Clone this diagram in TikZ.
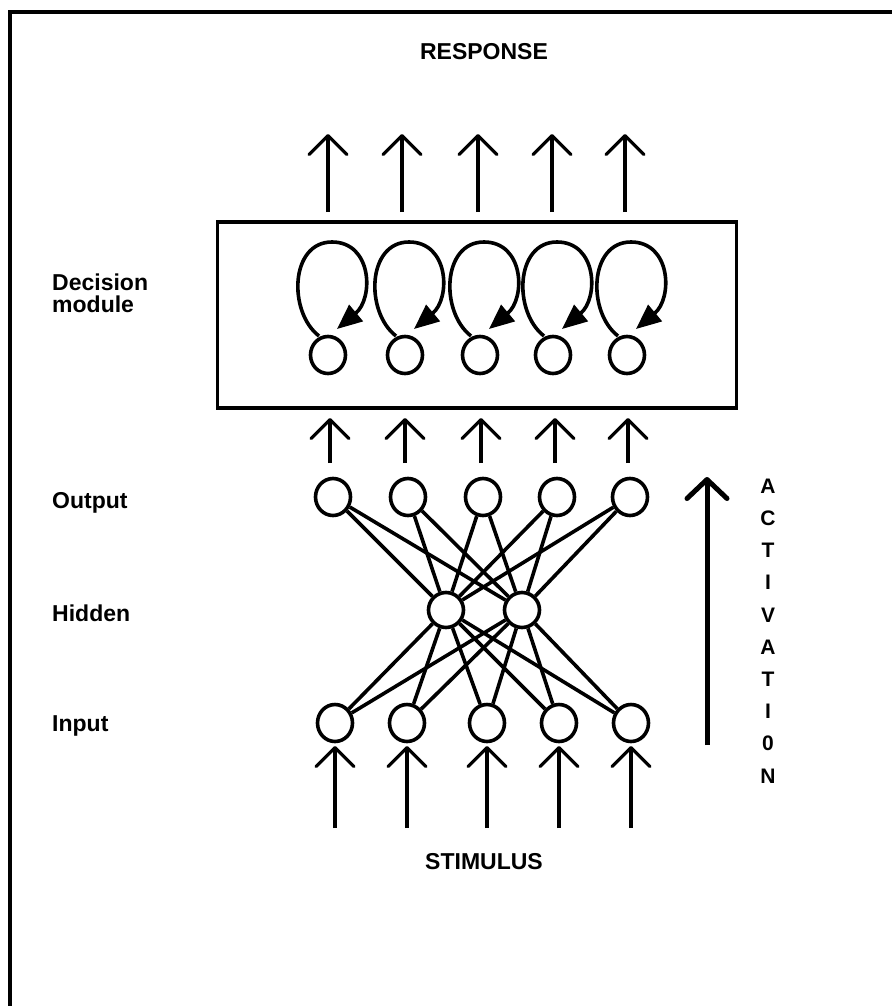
\documentclass[tikz,border=0pt]{standalone}
\usepackage{fontspec}
\setmainfont{Liberation Sans}
\usetikzlibrary{arrows.meta,shapes.geometric}
\begin{document}
\begin{tikzpicture}[x=1pt,y=-1pt,
  unit/.style={ellipse,draw,line width=3.6pt,minimum width=35pt,minimum height=37pt,inner sep=0pt},
  hunit/.style={unit,minimum width=35pt,minimum height=35pt},
  conn/.style={line width=3.6pt},
  barb/.style={line width=3.2pt,-{Straight Barb[length=19pt,width=38pt,line cap=round,line join=round]}},
  loopar/.style={line width=3.6pt,-{Triangle[length=25pt,width=21pt]}},
  lbl/.style={font=\fontsize{23}{22}\bfseries\selectfont,inner sep=0pt},
  letter/.style={font=\fontsize{21}{24}\bfseries\selectfont,inner sep=0pt}]
\useasboundingbox (0,0) rectangle (892,1006);
% frame
\draw[line width=3.6pt] (10,1006) -- (10,12) -- (892,12);
% titles
\node[lbl] (resp) at (484,52) {RESPONSE};
\node[lbl] (stim) at (484,862) {STIMULUS};
\node[lbl,anchor=west,align=left] (declbl) at (52,293) {Decision\\module};
\node[lbl,anchor=west] (outlbl) at (52,503) {Output};
\node[lbl,anchor=west] (hidlbl) at (52,613) {Hidden};
\node[lbl,anchor=west] (inlbl) at (52,726) {Input};
% decision box
\node[draw,line width=3.8pt,minimum width=519pt,minimum height=186pt,inner sep=0pt] (box) at (477,315) {};
% decision units
\foreach \i/\x in {1/328,2/405,3/480,4/553,5/627}{
  \node[unit] (d\i) at (\x,355) {};
  \coordinate (ls\i) at (\x-9,336);
  \coordinate (lt\i) at (\x+9,329);
  \draw[loopar] (ls\i) .. controls (\x-40,312) and (\x-38,242) .. (\x+4,242)
                       .. controls (\x+44,242) and (\x+46,298) .. (lt\i);
}
% output, hidden, input units
\foreach \i/\x in {1/333,2/408,3/483,4/557,5/630}{\node[unit] (o\i) at (\x,497) {};}
\node[hunit] (h1) at (446,610) {};
\node[hunit] (h2) at (522,610) {};
\foreach \i/\x in {1/335,2/407,3/487,4/559,5/631}{\node[unit] (n\i) at (\x,723) {};}
% connections
\foreach \i in {1,...,5}{
  \draw[conn] (o\i) -- (h1);
  \draw[conn] (o\i) -- (h2);
  \draw[conn] (n\i) -- (h1);
  \draw[conn] (n\i) -- (h2);
}
% response arrows
\foreach \i/\x in {1/328,2/402,3/478,4/552,5/625}{
  \coordinate (rs\i) at (\x,212);
  \coordinate (re\i) at (\x,134);
  \draw[barb] (rs\i) -- (re\i);
}
% output -> decision arrows
\foreach \i/\x in {1/330,2/405,3/481,4/555,5/628}{
  \coordinate (ms\i) at (\x,463);
  \coordinate (me\i) at (\x,418);
  \draw[barb] (ms\i) -- (me\i);
}
% stimulus arrows
\foreach \i/\x in {1/335,2/407,3/487,4/559,5/631}{
  \coordinate (ss\i) at (\x,828);
  \coordinate (se\i) at (\x,746);
  \draw[barb] (ss\i) -- (se\i);
}
% activation arrow
\coordinate (as) at (707,745);
\coordinate (ae) at (707,477);
\draw[line width=5pt,-{Straight Barb[length=19pt,width=40pt,line cap=round,line join=round]}] (as) -- (ae);
\foreach \c [count=\k from 0] in {A,C,T,I,V,A,T,I,0,N}{
  \node[letter] (act\k) at (768,486+32.2*\k) {\c};
}
\end{tikzpicture}
\end{document}
